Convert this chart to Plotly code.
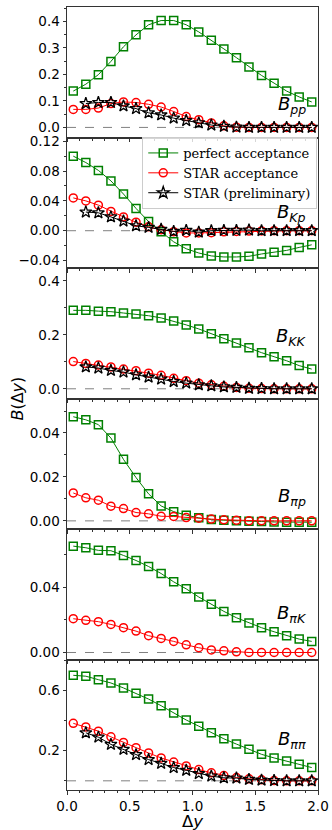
import plotly.graph_objects as go
from plotly.subplots import make_subplots

# ---------------- data ----------------
dy = [0.05, 0.15, 0.25, 0.35, 0.45, 0.55, 0.65, 0.75, 0.85, 0.95,
      1.05, 1.15, 1.25, 1.35, 1.45, 1.55, 1.65, 1.75, 1.85, 1.95]
dy_star = dy[1:]

pp_perfect = [0.137, 0.163, 0.199, 0.249, 0.304, 0.349, 0.387, 0.403, 0.403, 0.387,
              0.360, 0.329, 0.296, 0.263, 0.228, 0.196, 0.167, 0.137, 0.115, 0.096]
pp_star_acc = [0.068, 0.068, 0.073, 0.090, 0.096, 0.094, 0.087, 0.077, 0.060, 0.041,
               0.029, 0.017, 0.006, 0.001, 0.0, 0.0, 0.0, 0.0, 0.0, 0.0]
pp_prelim = [0.090, 0.094, 0.094, 0.081, 0.071, 0.055, 0.047, 0.035, 0.026,
             0.017, 0.009, 0.004, 0.001, 0.0, 0.0, 0.0, 0.0, 0.0, 0.0]

kp_perfect = [0.100, 0.0914, 0.0809, 0.0668, 0.0492, 0.0299, 0.0123, -0.0013, -0.0149, -0.0242,
              -0.0299, -0.0338, -0.0352, -0.0352, -0.0343, -0.0312, -0.0290, -0.0264, -0.0224, -0.0189]
kp_star_acc = [0.044, 0.040, 0.0343, 0.0259, 0.0185, 0.0114, 0.0053, 0.0013, -0.0013, -0.0030,
               -0.0030, -0.0026, -0.0015, -0.0010, -0.0005, -0.0003, 0.0, 0.0, 0.0, 0.0]
kp_prelim = [0.025, 0.024, 0.0185, 0.013, 0.0066, 0.0044, 0.0018, -0.001, 0.0004,
             -0.002, 0.0, 0.0004, 0.0004, 0.0009, 0.0, 0.0, 0.0, 0.0, 0.0]

kk_perfect = [0.291, 0.291, 0.288, 0.286, 0.281, 0.277, 0.271, 0.263, 0.251, 0.237,
              0.222, 0.204, 0.186, 0.170, 0.152, 0.134, 0.119, 0.104, 0.086, 0.073]
kk_star_acc = [0.101, 0.094, 0.088, 0.081, 0.073, 0.067, 0.058, 0.050, 0.039, 0.030,
               0.021, 0.015, 0.009, 0.005, 0.002, 0.001, 0.0, 0.0, 0.0, 0.0]
kk_prelim = [0.081, 0.077, 0.068, 0.062, 0.052, 0.043, 0.036, 0.027, 0.021,
             0.015, 0.011, 0.007, 0.005, 0.002, 0.001, 0.0, 0.0, 0.0, 0.0]

pip_perfect = [0.0474, 0.0460, 0.0438, 0.0377, 0.0280, 0.0197, 0.0123, 0.0068, 0.0042, 0.0026,
               0.0014, 0.0006, 0.0003, 0.0, -0.0002, -0.0003, -0.0005, -0.0006, -0.0006, -0.0006]
pip_star_acc = [0.0127, 0.0105, 0.0094, 0.0067, 0.0056, 0.0038, 0.0032, 0.0021, 0.0020, 0.0015,
                0.0012, 0.0008, 0.0005, 0.0003, 0.0, 0.0, 0.0, 0.0, 0.0, 0.0]

pik_perfect = [0.0652, 0.0642, 0.0626, 0.0624, 0.0595, 0.0564, 0.0527, 0.0484, 0.0433, 0.0390,
               0.0340, 0.0295, 0.0252, 0.0213, 0.0180, 0.0152, 0.0127, 0.0103, 0.0082, 0.0068]
pik_star_acc = [0.0207, 0.0197, 0.0189, 0.0172, 0.0152, 0.0131, 0.0103, 0.0086, 0.0068, 0.0047,
                0.0029, 0.0016, 0.0010, 0.0004, 0.0, 0.0, 0.0, 0.0, 0.0, 0.0]

pipi_perfect = [0.701, 0.695, 0.672, 0.650, 0.617, 0.582, 0.543, 0.499, 0.451, 0.404,
                0.363, 0.319, 0.279, 0.244, 0.209, 0.176, 0.152, 0.132, 0.110, 0.088]
pipi_star_acc = [0.382, 0.358, 0.330, 0.292, 0.255, 0.220, 0.185, 0.152, 0.125, 0.099,
                 0.075, 0.053, 0.035, 0.022, 0.013, 0.007, 0.002, 0.0, 0.0, 0.0]
pipi_prelim = [0.319, 0.290, 0.242, 0.209, 0.174, 0.141, 0.116, 0.088, 0.070,
               0.048, 0.031, 0.020, 0.018, 0.009, 0.004, 0.002, 0.0, 0.0, 0.0]

series_names = ["perfect acceptance", "STAR acceptance", "STAR (preliminary)"]
panel_labels = ["<i>B</i><sub><i>pp</i></sub>", "<i>B</i><sub><i>Kp</i></sub>",
                "<i>B</i><sub><i>KK</i></sub>", "<i>B</i><sub><i>πp</i></sub>",
                "<i>B</i><sub><i>πK</i></sub>", "<i>B</i><sub><i>ππ</i></sub>"]

panels = [
    (pp_perfect, pp_star_acc, pp_prelim),
    (kp_perfect, kp_star_acc, kp_prelim),
    (kk_perfect, kk_star_acc, kk_prelim),
    (pip_perfect, pip_star_acc, None),
    (pik_perfect, pik_star_acc, None),
    (pipi_perfect, pipi_star_acc, pipi_prelim),
]

# ---------------- styling ----------------
y_ranges = [[-0.038, 0.454], [-0.050, 0.125], [-0.036, 0.448],
            [-0.0037, 0.0557], [-0.0043, 0.0757], [-0.061, 0.806]]
y_tick = [dict(tickvals=[0.0, 0.1, 0.2, 0.3, 0.4], fmt=".1f", minor=0.05),
          dict(tickvals=[-0.04, 0.0, 0.04, 0.08, 0.12], fmt=".2f", minor=0.02),
          dict(tickvals=[0.0, 0.2, 0.4], fmt=".1f", minor=0.1),
          dict(tickvals=[0.0, 0.02, 0.04], fmt=".2f", minor=0.01),
          dict(tickvals=[0.0, 0.04], fmt=".2f", minor=0.02),
          dict(tickvals=[0.2, 0.6], fmt=".1f", minor=0.2)]
label_pos = [0.25, 0.42, 0.47, 0.245, 0.35, 0.38]

GREEN = "#008000"
RED = "#ff0000"
BLACK = "#000000"
SPINE = "#333333"
TICKFONT = dict(family="DejaVu Sans", size=13.5, color="black")

fig = make_subplots(rows=6, cols=1, shared_xaxes=True, vertical_spacing=0)

for i, (g, r, s) in enumerate(panels):
    row = i + 1
    show = (i == 1)
    fig.add_trace(go.Scatter(x=dy, y=g, mode="lines+markers", name=series_names[0],
                             line=dict(color=GREEN, width=1),
                             marker=dict(symbol="square-open", size=8, color=GREEN,
                                         line=dict(width=1.5, color=GREEN)),
                             showlegend=show, legendgroup="g"), row=row, col=1)
    fig.add_trace(go.Scatter(x=dy, y=r, mode="lines+markers", name=series_names[1],
                             line=dict(color=RED, width=1),
                             marker=dict(symbol="circle-open", size=8, color=RED,
                                         line=dict(width=1.5, color=RED)),
                             showlegend=show, legendgroup="r"), row=row, col=1)
    if s is not None:
        fig.add_trace(go.Scatter(x=dy_star, y=s, mode="lines+markers", name=series_names[2],
                                 line=dict(color=BLACK, width=1),
                                 marker=dict(symbol="star-open", size=9, color=BLACK,
                                             line=dict(width=1.3, color=BLACK)),
                                 showlegend=show, legendgroup="s"), row=row, col=1)
    fig.add_hline(y=0, line=dict(color="#808080", width=1, dash="dash"),
                  layer="below", row=row, col=1)
    yt = y_tick[i]
    fig.update_yaxes(range=y_ranges[i], tickvals=yt["tickvals"], tickformat=yt["fmt"],
                     ticks="outside", ticklen=3.5, tickwidth=1, tickcolor=SPINE,
                     minor=dict(ticks="outside", ticklen=2, tickwidth=0.8, tickcolor=SPINE,
                                dtick=yt["minor"], tick0=0),
                     showline=True, linecolor=SPINE, linewidth=1, mirror=True,
                     showgrid=False, zeroline=False, tickfont=TICKFONT,
                     automargin=False, row=row, col=1)
    fig.update_xaxes(range=[0, 2.0], dtick=0.5, tick0=0, tickformat=".1f",
                     ticks="outside", ticklen=3.5, tickwidth=1, tickcolor=SPINE,
                     minor=dict(ticks="outside", ticklen=2, tickwidth=0.8, tickcolor=SPINE,
                                dtick=0.1, tick0=0),
                     showline=True, linecolor=SPINE, linewidth=1, mirror=True,
                     showgrid=False, zeroline=False, tickfont=TICKFONT,
                     automargin=False, row=row, col=1)
    yref = "y domain" if row == 1 else f"y{row} domain"
    xref = "x domain" if row == 1 else f"x{row} domain"
    fig.add_annotation(text=panel_labels[i], x=0.895, y=label_pos[i], xref=xref, yref=yref,
                       xanchor="center", yanchor="middle", showarrow=False,
                       font=dict(family="DejaVu Sans", size=18, color="black"))

fig.add_annotation(text="<i>B</i>(Δ<i>y</i>)", x=-0.199, y=0.5, xref="paper", yref="paper",
                   textangle=-90, xanchor="center", yanchor="middle", showarrow=False,
                   font=dict(family="DejaVu Sans", size=16, color="black"))
fig.add_annotation(text="Δ<i>y</i>", x=0.5, y=-0.0405, xref="paper", yref="paper",
                   xanchor="center", yanchor="middle", showarrow=False,
                   font=dict(family="DejaVu Sans", size=16.5, color="black"))

fig.update_layout(
    width=332, height=830,
    margin=dict(l=67, r=14, t=7, b=40),
    paper_bgcolor="white", plot_bgcolor="white",
    legend=dict(x=0.997, y=0.834, xanchor="right", yanchor="top",
                bgcolor="rgba(255,255,255,0.8)", bordercolor="#cccccc", borderwidth=1,
                font=dict(family="DejaVu Serif", size=13, color="black"),
                tracegroupgap=0, itemwidth=30),
)

fig.write_html("out.html", config={"displayModeBar": False},
               post_script="document.body.style.margin='0';document.body.style.overflow='hidden';")
